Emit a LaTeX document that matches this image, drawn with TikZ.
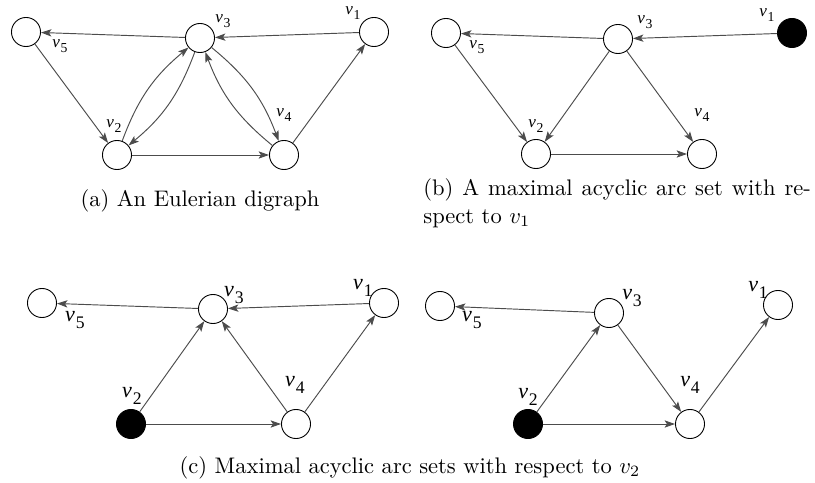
\documentclass[tikz,border=0pt]{standalone}
\usepackage{fontspec}
\newfontfamily\vfont{Liberation Serif}
\usepackage{tikz}
\usetikzlibrary{arrows.meta}

\newcommand{\vlab}[1]{{\vfont\itshape v}\kern.04em\raisebox{-.28em}{\scalebox{.8}{\vfont\upshape #1}}}

\begin{document}
\begin{tikzpicture}[x=0.444pt, y=-0.444pt,
  vtx/.style={circle, draw, line width=.4pt, inner sep=0pt, minimum size=12.9pt, fill=white},
  src/.style={vtx, fill=black},
  arc/.style={-{Stealth[length=4.6pt,width=3.2pt,inset=1pt]}, draw=black!70, line width=.42pt},
  lbl/.style={inner sep=0pt, font=\fontsize{7.6}{8}\selectfont},
  biglbl/.style={inner sep=0pt, font=\fontsize{9.8}{11}\selectfont},
  captxt/.style={inner sep=0pt, font=\normalsize}]
\useasboundingbox (0,0) rectangle (815,483);

% (a) Eulerian digraph
\node[vtx] (a1) at (374,32) {};
\node[vtx] (a2) at (117,155) {};
\node[vtx] (a3) at (200,38) {};
\node[vtx] (a4) at (284,155) {};
\node[vtx] (a5) at (26,32) {};
\node[lbl] (la1) at (353,13) {\vlab{1}};
\node[lbl] (la2) at (114,126) {\vlab{2}};
\node[lbl] (la3) at (223,21) {\vlab{3}};
\node[lbl] (la4) at (284,115) {\vlab{4}};
\node[lbl] (la5) at (60,46) {\vlab{5}};
\draw[arc] (a1) -- (a3);
\draw[arc] (a3) -- (a5);
\draw[arc] (a5) -- (a2);
\draw[arc] (a2) to[bend left=15] (a3);
\draw[arc] (a3) to[bend left=15] (a2);
\draw[arc] (a3) to[bend left=15] (a4);
\draw[arc] (a4) to[bend left=15] (a3);
\draw[arc] (a2) -- (a4);
\draw[arc] (a4) -- (a1);
\node[captxt, anchor=base] (capa) at (200,207) {(a) An Eulerian digraph};

% (b) acyclic arc set for v1
\node[src] (b1) at (792,33) {};
\node[vtx] (b2) at (536,154) {};
\node[vtx] (b3) at (618,39) {};
\node[vtx] (b4) at (702,154) {};
\node[vtx] (b5) at (446,33) {};
\node[lbl] (lb1) at (767,15) {\vlab{1}};
\node[lbl] (lb2) at (536,126) {\vlab{2}};
\node[lbl] (lb3) at (645,22) {\vlab{3}};
\node[lbl] (lb4) at (702,115) {\vlab{4}};
\node[lbl] (lb5) at (477,47) {\vlab{5}};
\draw[arc] (b1) -- (b3);
\draw[arc] (b3) -- (b5);
\draw[arc] (b5) -- (b2);
\draw[arc] (b3) -- (b2);
\draw[arc] (b3) -- (b4);
\draw[arc] (b2) -- (b4);
\node[captxt, anchor=base west, text width=172pt, align=justify] (capb) at (423,196)
  {(b) A maximal acyclic arc set with re-\linebreak spect to $v_1$};

% (c) acyclic arc sets for v2
\node[vtx] (c1) at (384,303) {};
\node[src] (c2) at (131,424) {};
\node[vtx] (c3) at (213,309) {};
\node[vtx] (c4) at (296,424) {};
\node[vtx] (c5) at (42,303) {};
\node[biglbl] (lc1) at (363,288) {\vlab{1}};
\node[biglbl] (lc2) at (132,396) {\vlab{2}};
\node[biglbl] (lc3) at (234,295) {\vlab{3}};
\node[biglbl] (lc4) at (295,385) {\vlab{4}};
\node[biglbl] (lc5) at (75,320) {\vlab{5}};
\draw[arc] (c1) -- (c3);
\draw[arc] (c3) -- (c5);
\draw[arc] (c2) -- (c3);
\draw[arc] (c4) -- (c3);
\draw[arc] (c2) -- (c4);
\draw[arc] (c4) -- (c1);

\node[vtx] (d1) at (778,305) {};
\node[src] (d2) at (528,424) {};
\node[vtx] (d3) at (609,313) {};
\node[vtx] (d4) at (690,424) {};
\node[vtx] (d5) at (440,306) {};
\node[biglbl] (ld1) at (758,290) {\vlab{1}};
\node[biglbl] (ld2) at (528,397) {\vlab{2}};
\node[biglbl] (ld3) at (632,298) {\vlab{3}};
\node[biglbl] (ld4) at (690,385) {\vlab{4}};
\node[biglbl] (ld5) at (472,320) {\vlab{5}};
\draw[arc] (d3) -- (d5);
\draw[arc] (d2) -- (d3);
\draw[arc] (d3) -- (d4);
\draw[arc] (d2) -- (d4);
\draw[arc] (d4) -- (d1);
\node[captxt, anchor=base] (capc) at (410,473) {(c) Maximal acyclic arc sets with respect to $v_2$};
\end{tikzpicture}
\end{document}
